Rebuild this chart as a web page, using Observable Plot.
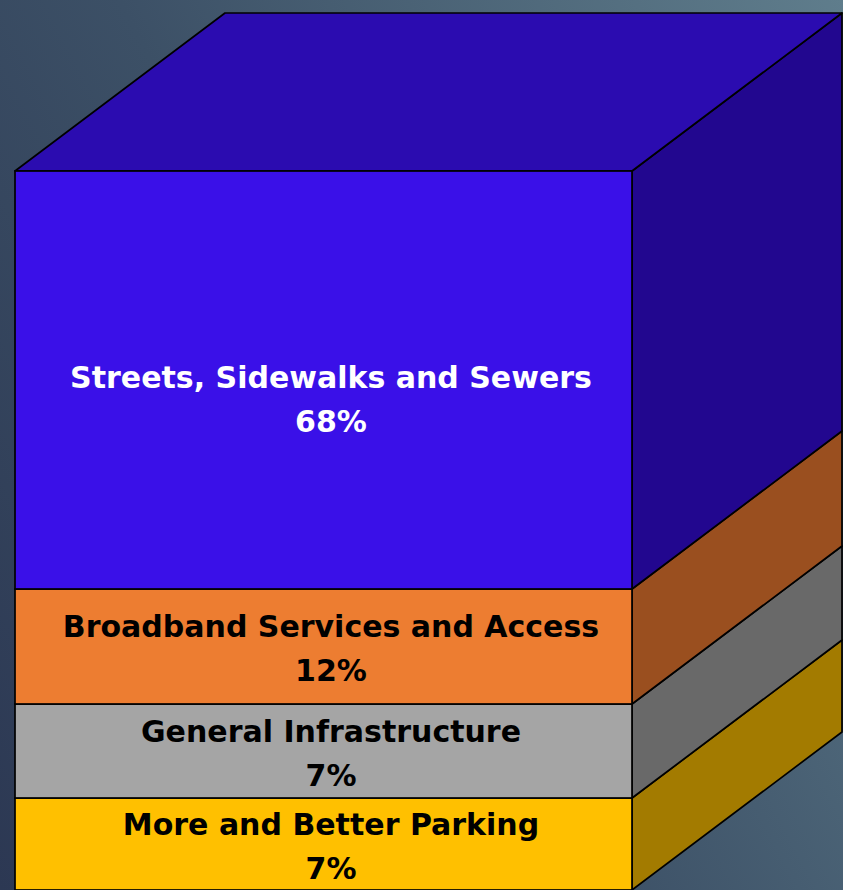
<!DOCTYPE html>
<html><head><meta charset="utf-8">
<script src="https://cdn.jsdelivr.net/npm/d3@7"></script>
<script src="https://cdn.jsdelivr.net/npm/@observablehq/plot@0.6"></script>
<style>
html,body{margin:0;padding:0;background:#3a4b62;}
#chart{width:843px;height:890px;background:linear-gradient(62deg,#2c3853 0%,#3c5066 45%,#5f7d8c 100%);overflow:hidden;}
#chart svg{display:block;}
</style></head><body><div id="chart"></div>
<script>
// Data (bottom to top of the stack)
const categories = ["More and Better Parking", "General Infrastructure", "Broadband Services and Access", "Streets, Sidewalks and Sewers"];
const percents = [7, 7, 12, 68];

// Styles
const frontColors = ["#FFC000", "#A5A5A5", "#ED7D31", "#3A10E8"];
const sideColors = ["#A37B00", "#696969", "#9A4F1F", "#22078F"];
const topColor = "#2B0CB0";
const depthX = 210, depthY = 158; // 3D extrusion in pixels

const ends = d3.cumsum(percents);
const table = categories.map((c, i) => ({
  category: c, value: percents[i], y1: ends[i] - percents[i], y2: ends[i],
  label: `${c}\n${percents[i]}%`
}));

function extrusion(index, scales) {
  const x = scales.x, y = scales.y;
  const g = d3.create("svg:g");
  const xl = x(0), xr = x(1);
  table.forEach((d, i) => {
    const a = y(d.y1), b = y(d.y2);
    g.append("path")
      .attr("d", `M${xr},${a}L${xr},${b}L${xr + depthX},${b - depthY}L${xr + depthX},${a - depthY}Z`)
      .attr("fill", sideColors[i]).attr("stroke", "#000").attr("stroke-width", 1.7).attr("stroke-linejoin", "round");
  });
  const t = y(ends[ends.length - 1]);
  g.append("path")
    .attr("d", `M${xl},${t}L${xl + depthX},${t - depthY}L${xr + depthX},${t - depthY}L${xr},${t}Z`)
    .attr("fill", topColor).attr("stroke", "#000").attr("stroke-width", 1.7).attr("stroke-linejoin", "round");
  return g.node();
}

const textStyle = {fontFamily: "DejaVu Sans", fontWeight: "bold", fontSize: 30, lineHeight: 1.47};

const chart = Plot.plot({
  width: 843, height: 890, margin: 0,
  style: {background: "transparent", overflow: "visible"},
  x: {type: "linear", domain: [0, 1], range: [15, 632], axis: null},
  y: {type: "linear", domain: [0, ...ends], range: [890, 798, 704, 589, 171], axis: null},
  color: {domain: categories, range: frontColors},
  marks: [
    extrusion,
    Plot.rect(table, {x1: 0, x2: 1, y1: "y1", y2: "y2", fill: "category", stroke: "#000", strokeWidth: 1.7}),
    Plot.text(table, {filter: d => d.value > 50, x: 0.5, y: d => (d.y1 + d.y2) / 2, text: "label", fill: "#fff", dx: 7, dy: 15, ...textStyle}),
    Plot.text(table, {filter: d => d.value <= 50, x: 0.5, y: d => (d.y1 + d.y2) / 2, text: "label", fill: "#000", dx: 7, dy: -2, ...textStyle})
  ]
});
document.getElementById("chart").appendChild(chart);
</script>
</body></html>
